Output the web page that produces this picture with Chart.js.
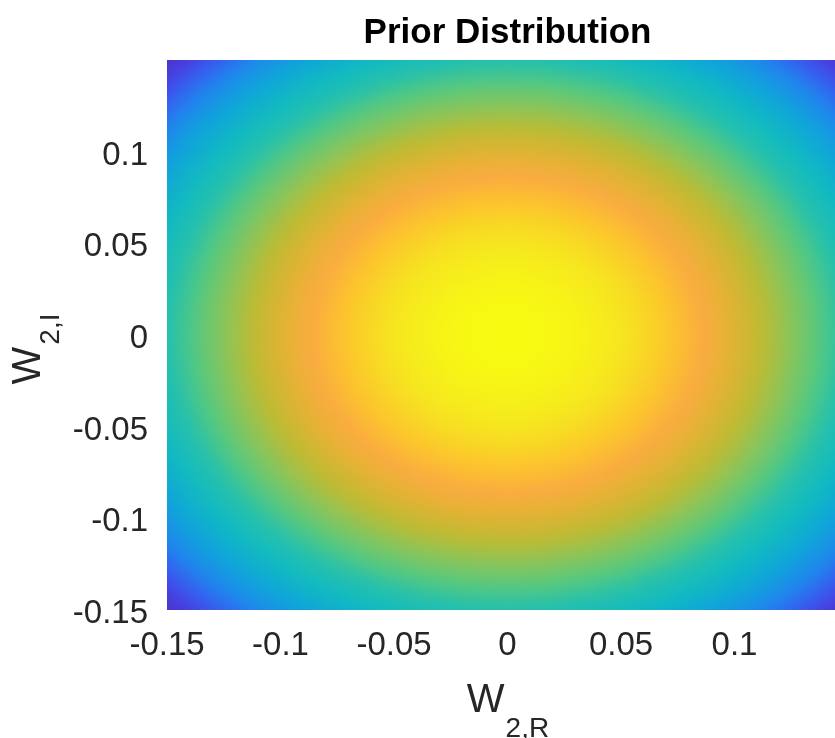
<!DOCTYPE html>
<html>
<head>
<meta charset="utf-8">
<title>Prior Distribution</title>
<script src="https://cdn.jsdelivr.net/npm/chart.js@4.4.1/dist/chart.umd.min.js"></script>
<style>
  html, body { margin: 0; padding: 0; background: #fff; overflow: hidden; }
  #wrap { width: 860px; height: 738px; }
</style>
</head>
<body>
<div id="wrap"><canvas id="priorChart" width="860" height="738"></canvas></div>
<script>
// grid of W (same for real and imaginary part), step 0.005
const gridW = [-0.15, -0.145, -0.14, -0.135, -0.13, -0.125, -0.12, -0.115, -0.11, -0.105,
  -0.1, -0.095, -0.09, -0.085, -0.08, -0.075, -0.07, -0.065, -0.06, -0.055,
  -0.05, -0.045, -0.04, -0.035, -0.03, -0.025, -0.02, -0.015, -0.01, -0.005,
  0, 0.005, 0.01, 0.015, 0.02, 0.025, 0.03, 0.035, 0.04, 0.045,
  0.05, 0.055, 0.06, 0.065, 0.07, 0.075, 0.08, 0.085, 0.09, 0.095,
  0.1, 0.105, 0.11, 0.115, 0.12, 0.125, 0.13, 0.135, 0.14, 0.145, 0.15];

// relative prior density along W_2,R
const priorR = [0.95600, 0.95882, 0.96156, 0.96421, 0.96676, 0.96923, 0.97161, 0.97390, 0.97609, 0.97819,
  0.98020, 0.98211, 0.98393, 0.98565, 0.98728, 0.98881, 0.99025, 0.99159, 0.99283, 0.99397,
  0.99501, 0.99596, 0.99680, 0.99755, 0.99820, 0.99875, 0.99920, 0.99955, 0.99980, 0.99995,
  1.00000, 0.99995, 0.99980, 0.99955, 0.99920, 0.99875, 0.99820, 0.99755, 0.99680, 0.99596,
  0.99501, 0.99397, 0.99283, 0.99159, 0.99025, 0.98881, 0.98728, 0.98565, 0.98393, 0.98211,
  0.98020, 0.97819, 0.97609, 0.97390, 0.97161, 0.96923, 0.96676, 0.96421, 0.96156, 0.95882, 0.95600];

// relative prior density along W_2,I
const priorI = [0.95600, 0.95882, 0.96156, 0.96421, 0.96676, 0.96923, 0.97161, 0.97390, 0.97609, 0.97819,
  0.98020, 0.98211, 0.98393, 0.98565, 0.98728, 0.98881, 0.99025, 0.99159, 0.99283, 0.99397,
  0.99501, 0.99596, 0.99680, 0.99755, 0.99820, 0.99875, 0.99920, 0.99955, 0.99980, 0.99995,
  1.00000, 0.99995, 0.99980, 0.99955, 0.99920, 0.99875, 0.99820, 0.99755, 0.99680, 0.99596,
  0.99501, 0.99397, 0.99283, 0.99159, 0.99025, 0.98881, 0.98728, 0.98565, 0.98393, 0.98211,
  0.98020, 0.97819, 0.97609, 0.97390, 0.97161, 0.96923, 0.96676, 0.96421, 0.96156, 0.95882, 0.95600];

const xTicks = [-0.15, -0.1, -0.05, 0, 0.05, 0.1];
const yTicks = [-0.15, -0.1, -0.05, 0, 0.05, 0.1];

const CELL = 0.005;
const FONT = "'Liberation Sans', Arial, Helvetica, sans-serif";
const TEXT_COLOR = '#262626';

// parula-like colour map (as it looks in the picture)
const colorStops = [
  [0.00, [74, 52, 202]],
  [0.07, [70, 66, 226]],
  [0.14, [52, 98, 240]],
  [0.22, [30, 136, 236]],
  [0.32, [15, 166, 216]],
  [0.42, [18, 186, 192]],
  [0.50, [40, 193, 170]],
  [0.57, [85, 200, 128]],
  [0.64, [135, 197, 92]],
  [0.71, [188, 187, 52]],
  [0.78, [228, 178, 52]],
  [0.83, [250, 172, 64]],
  [0.88, [252, 196, 45]],
  [0.94, [246, 228, 32]],
  [1.00, [247, 251, 18]],
];

function colorAt(t) {
  t = Math.max(0, Math.min(1, t));
  for (let k = 1; k < colorStops.length; k++) {
    const [t1, c1] = colorStops[k];
    if (t <= t1) {
      const [t0, c0] = colorStops[k - 1];
      const f = (t - t0) / (t1 - t0);
      return [0, 1, 2].map(n => Math.round(c0[n] + (c1[n] - c0[n]) * f));
    }
  }
  return colorStops[colorStops.length - 1][1];
}

// cells of the image
const cells = [];
gridW.forEach((wr, i) => {
  gridW.forEach((wi, j) => {
    cells.push({ x: wr, y: wi, i, j, v: priorR[i] * priorI[j] });
  });
});
const vMin = Math.min(...cells.map(c => c.v));
const vMax = Math.max(...cells.map(c => c.v));

// one pixel per cell, later stretched onto the plot like imagesc
const nX = gridW.length, nY = gridW.length;
const cellImage = document.createElement('canvas');
cellImage.width = nX;
cellImage.height = nY;
const imgCtx = cellImage.getContext('2d');
const imgData = imgCtx.createImageData(nX, nY);
cells.forEach(c => {
  const rgb = colorAt((c.v - vMin) / (vMax - vMin));
  const p = ((nY - 1 - c.j) * nX + c.i) * 4;
  imgData.data[p] = rgb[0];
  imgData.data[p + 1] = rgb[1];
  imgData.data[p + 2] = rgb[2];
  imgData.data[p + 3] = 255;
});
imgCtx.putImageData(imgData, 0, 0);

const heatmapPlugin = {
  id: 'heatmap',
  beforeDatasetsDraw(chart) {
    const { ctx, chartArea, scales } = chart;
    const xs = scales.x, ys = scales.y;
    const x0 = xs.getPixelForValue(gridW[0] - CELL / 2);
    const x1 = xs.getPixelForValue(gridW[nX - 1] + CELL / 2);
    const y0 = ys.getPixelForValue(gridW[nY - 1] + CELL / 2);
    const y1 = ys.getPixelForValue(gridW[0] - CELL / 2);
    ctx.save();
    ctx.beginPath();
    ctx.rect(chartArea.left, chartArea.top, chartArea.right - chartArea.left, chartArea.bottom - chartArea.top);
    ctx.clip();
    ctx.imageSmoothingEnabled = true;
    ctx.imageSmoothingQuality = 'high';
    ctx.drawImage(cellImage, x0, y0, x1 - x0, y1 - y0);
    ctx.restore();
  }
};

// axis titles with subscripts (W_{2,R}, W_{2,I})
const axisTitlePlugin = {
  id: 'axisTitles',
  afterDraw(chart) {
    const { ctx, chartArea } = chart;
    const big = `40px ${FONT}`;
    const small = `28px ${FONT}`;
    ctx.save();
    ctx.fillStyle = TEXT_COLOR;
    ctx.textBaseline = 'alphabetic';
    ctx.textAlign = 'left';

    // x title
    ctx.font = big;
    const wW = ctx.measureText('W').width;
    ctx.font = small;
    const wR = ctx.measureText('2,R').width;
    const x = (chartArea.left + chartArea.right) / 2 - (wW + wR) / 2;
    ctx.font = big;
    ctx.fillText('W', x, 712);
    ctx.font = small;
    ctx.fillText('2,R', x + wW + 1, 737);

    // y title
    ctx.font = small;
    const wI = ctx.measureText('2,I').width;
    ctx.translate(40, 350);
    ctx.rotate(-Math.PI / 2);
    const start = -(wW + wI) / 2;
    ctx.font = big;
    ctx.fillText('W', start, 0);
    ctx.font = small;
    ctx.fillText('2,I', start + wW + 2, 19);
    ctx.restore();
  }
};

const tickFont = { family: FONT, size: 33 };

const ctx = document.getElementById('priorChart').getContext('2d');
const chart = new Chart(ctx, {
  type: 'scatter',
  data: {
    datasets: [{
      label: 'prior',
      data: cells,
      pointRadius: 0,
      pointHoverRadius: 0,
    }],
  },
  options: {
    responsive: false,
    animation: false,
    events: [],
    layout: { padding: { left: 0, right: 12, top: 0, bottom: 0 } },
    plugins: {
      legend: { display: false },
      tooltip: { enabled: false },
      title: {
        display: true,
        text: 'Prior Distribution',
        fullSize: false,
        color: '#000',
        font: { family: FONT, size: 35, weight: 'bold' },
        padding: { top: 12, bottom: 6 },
      },
    },
    scales: {
      x: {
        type: 'linear',
        min: -0.15,
        max: 0.15,
        grid: { display: false, drawTicks: false },
        border: { display: false },
        ticks: {
          color: TEXT_COLOR,
          font: tickFont,
          padding: 16,
          maxRotation: 0,
          autoSkip: false,
          callback: (v) => String(v),
        },
        afterBuildTicks: (axis) => { axis.ticks = xTicks.map(v => ({ value: v })); },
        afterFit: (axis) => { axis.height = 128; },
      },
      y: {
        type: 'linear',
        min: -0.15,
        max: 0.15,
        grid: { display: false, drawTicks: false },
        border: { display: false },
        ticks: {
          color: TEXT_COLOR,
          font: tickFont,
          padding: 19,
          labelOffset: 4,
          autoSkip: false,
          callback: (v) => String(v),
        },
        afterBuildTicks: (axis) => { axis.ticks = yTicks.map(v => ({ value: v })); },
        afterFit: (axis) => { axis.width = 167; },
      },
    },
  },
  plugins: [heatmapPlugin, axisTitlePlugin],
});
</script>
</body>
</html>
